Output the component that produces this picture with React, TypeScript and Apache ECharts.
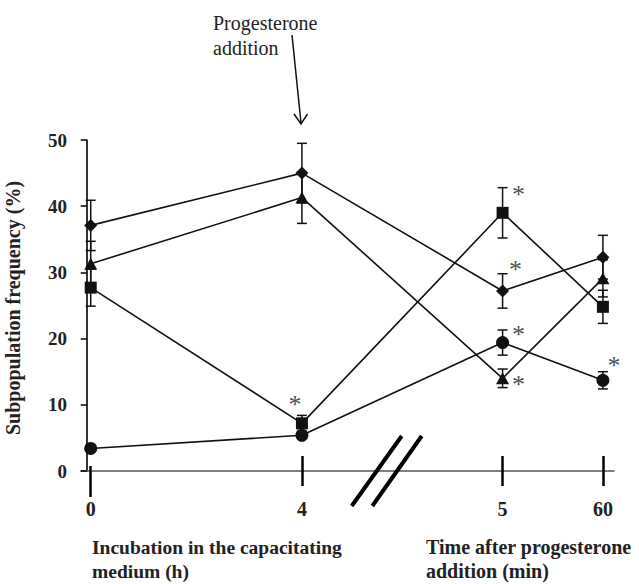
import React, { useEffect, useRef } from "react";
import * as echarts from "echarts";

// ---- data ----
const tickLabels = ["0", "4", "5", "60"];
const xPositions = [0, 4, 7.8, 9.7]; // positions on the broken time axis
const diamondValues = [37.1, 45.0, 27.2, 32.3];
const diamondErrors = [3.8, 4.5, 2.6, 3.3];
const triangleValues = [31.3, 41.3, 14.0, 29.1];
const triangleErrors = [3.4, 3.9, 1.4, 2.8];
const squareValues = [27.7, 7.2, 39.0, 24.8];
const squareErrors = [2.8, 1.2, 3.8, 2.5];
const circleValues = [3.4, 5.4, 19.4, 13.7];
const circleErrors = [0.4, 0.5, 1.9, 1.3];
const yMin = 0;
const yMax = 50;
const yStep = 10;
// significant differences (asterisks): [group, point index]
const significant: [string, number][] = [
  ["square", 1],
  ["square", 2],
  ["diamond", 2],
  ["circle", 2],
  ["triangle", 2],
  ["circle", 3],
];

// ---- styles ----
const asteriskOffsets = [
  [-7, -19],
  [16, -18],
  [13, -21],
  [16, -8],
  [16, 6],
  [11, -15],
];
const serif = "Liberation Serif";
const ink = "#111";

const groups: Record<string, { values: number[]; errors: number[]; symbol: string; size: any }> = {
  diamond: { values: diamondValues, errors: diamondErrors, symbol: "diamond", size: 13 },
  triangle: { values: triangleValues, errors: triangleErrors, symbol: "triangle", size: [13, 12] },
  square: { values: squareValues, errors: squareErrors, symbol: "rect", size: 12 },
  circle: { values: circleValues, errors: circleErrors, symbol: "circle", size: 13 },
};

const X_MIN = -0.184;
const X_MAX = 9.91;

export default function App() {
  const ref = useRef<HTMLDivElement>(null);
  useEffect(() => {
    document.body.style.margin = "0";
    const chart = echarts.init(ref.current!, null, { renderer: "svg" });

    const baseX = {
      type: "value",
      min: X_MIN,
      max: X_MAX,
      position: "bottom",
      splitLine: { show: false },
      axisLine: { show: false, onZero: true },
      axisLabel: { show: false },
    };
    const majorTicks = xPositions.filter((v) => v !== 0);

    const series: any[] = [];
    Object.keys(groups).forEach((name) => {
      const g = groups[name];
      series.push({
        type: "custom",
        name: name + "-err",
        xAxisIndex: 0,
        yAxisIndex: 0,
        z: 2,
        silent: true,
        data: g.values.map((v, i) => [xPositions[i], v, g.errors[i]]),
        encode: { x: 0, y: 1 },
        renderItem: (params: any, api: any) => {
          const x = api.value(0);
          const y = api.value(1);
          const e = api.value(2);
          const top = api.coord([x, y + e]);
          const bot = api.coord([x, y - e]);
          const cw = 5;
          const st = { stroke: ink, lineWidth: 1.5 };
          return {
            type: "group",
            children: [
              { type: "line", shape: { x1: top[0], y1: top[1], x2: bot[0], y2: bot[1] }, style: st },
              { type: "line", shape: { x1: top[0] - cw, y1: top[1], x2: top[0] + cw, y2: top[1] }, style: st },
              { type: "line", shape: { x1: bot[0] - cw, y1: bot[1], x2: bot[0] + cw, y2: bot[1] }, style: st },
            ],
          };
        },
      });
      series.push({
        type: "line",
        name,
        xAxisIndex: 0,
        yAxisIndex: 0,
        z: 3,
        data: g.values.map((v, i) => [xPositions[i], v]),
        symbol: g.symbol,
        symbolSize: g.size,
        showAllSymbol: true,
        itemStyle: { color: ink, opacity: 1 },
        lineStyle: { color: ink, width: 1.6 },
      });
    });

    series.push({
      type: "scatter",
      name: "significance",
      xAxisIndex: 0,
      yAxisIndex: 0,
      z: 5,
      silent: true,
      symbol: "circle",
      symbolSize: 1,
      itemStyle: { color: "rgba(0,0,0,0)" },
      data: significant.map(([gname, idx], k) => ({
        value: [xPositions[idx], groups[gname].values[idx]],
        label: { offset: asteriskOffsets[k] },
      })),
      label: {
        show: true,
        position: "inside",
        formatter: "*",
        fontFamily: serif,
        fontSize: 26,
        color: "#1a1a1a",
      },
    });

    const option: any = {
      animation: false,
      backgroundColor: "#fff",
      textStyle: { fontFamily: serif },
      grid: { left: 81, right: 25, top: 140, bottom: 113, containLabel: false },
      xAxis: [
        {
          ...baseX,
          axisLine: { show: true, onZero: true, lineStyle: { color: "#555", width: 1.5 } },
          axisTick: {
            show: true,
            customValues: majorTicks,
            length: 15,
            inside: false,
            lineStyle: { color: "#000", width: 2.5 },
          },
          axisLabel: {
            show: true,
            customValues: xPositions,
            margin: 28,
            fontFamily: serif,
            fontWeight: "bold",
            fontSize: 20,
            color: "#222",
            formatter: (v: number) => {
              let best = 0;
              xPositions.forEach((p, i) => {
                if (Math.abs(p - v) < Math.abs(xPositions[best] - v)) best = i;
              });
              return tickLabels[best];
            },
          },
        },
        { type: "value", min: -5.7, max: 527.3, show: false, position: "top" },
        {
          ...baseX,
          axisTick: { show: true, customValues: majorTicks, length: 15, inside: true, lineStyle: { color: "#000", width: 2.5 } },
        },
        {
          ...baseX,
          axisTick: { show: true, customValues: [xPositions[0]], length: 26, inside: false, lineStyle: { color: "#000", width: 2.5 } },
        },
        {
          ...baseX,
          axisTick: { show: true, customValues: [xPositions[0]], length: 5, inside: true, lineStyle: { color: "#000", width: 2.5 } },
        },
      ],
      yAxis: {
        type: "value",
        min: yMin,
        max: yMax,
        interval: yStep,
        splitLine: { show: false },
        axisLine: { show: true, onZero: true, onZeroAxisIndex: 1, lineStyle: { color: "#000", width: 1.6 } },
        axisTick: { show: true, length: 6, inside: false, lineStyle: { color: "#000", width: 1.5 } },
        axisLabel: { margin: 14, fontFamily: serif, fontWeight: "bold", fontSize: 19, color: "#222" },
      },
      graphic: [
        {
          type: "text",
          x: 13,
          y: 308,
          rotation: Math.PI / 2,
          style: {
            text: "Subpopulation frequency (%)",
            fontFamily: serif,
            fontWeight: "bold",
            fontSize: 20,
            fill: "#222",
            align: "center",
            verticalAlign: "middle",
          },
        },
        {
          type: "text",
          x: 213,
          y: 10,
          style: {
            text: "Progesterone\naddition",
            fontFamily: serif,
            fontSize: 20,
            lineHeight: 25,
            fill: "#222",
            align: "left",
            verticalAlign: "top",
          },
        },
        { type: "line", shape: { x1: 292, y1: 35, x2: 301, y2: 123 }, style: { stroke: ink, lineWidth: 1.5 } },
        {
          type: "polyline",
          shape: { points: [[294, 114], [301, 124], [307.5, 114]] },
          style: { stroke: ink, lineWidth: 1.5, fill: null },
        },
        { type: "line", z: 100, shape: { x1: 351.7, y1: 506, x2: 401.7, y2: 436 }, style: { stroke: "#000", lineWidth: 4 } },
        { type: "line", z: 100, shape: { x1: 372.3, y1: 506, x2: 421.7, y2: 436 }, style: { stroke: "#000", lineWidth: 4 } },
        {
          type: "text",
          x: 92,
          y: 535,
          style: {
            text: "Incubation in the capacitating\nmedium (h)",
            fontFamily: serif,
            fontWeight: "bold",
            fontSize: 19.5,
            lineHeight: 24,
            fill: "#222",
            align: "left",
            verticalAlign: "top",
          },
        },
        {
          type: "text",
          x: 426,
          y: 535,
          style: {
            text: "Time after progesterone\naddition (min)",
            fontFamily: serif,
            fontWeight: "bold",
            fontSize: 20,
            lineHeight: 24,
            fill: "#222",
            align: "left",
            verticalAlign: "top",
          },
        },
      ],
      series,
    };

    chart.setOption(option);
    return () => chart.dispose();
  }, []);
  return <div ref={ref} style={{ width: 639, height: 584 }} />;
}
